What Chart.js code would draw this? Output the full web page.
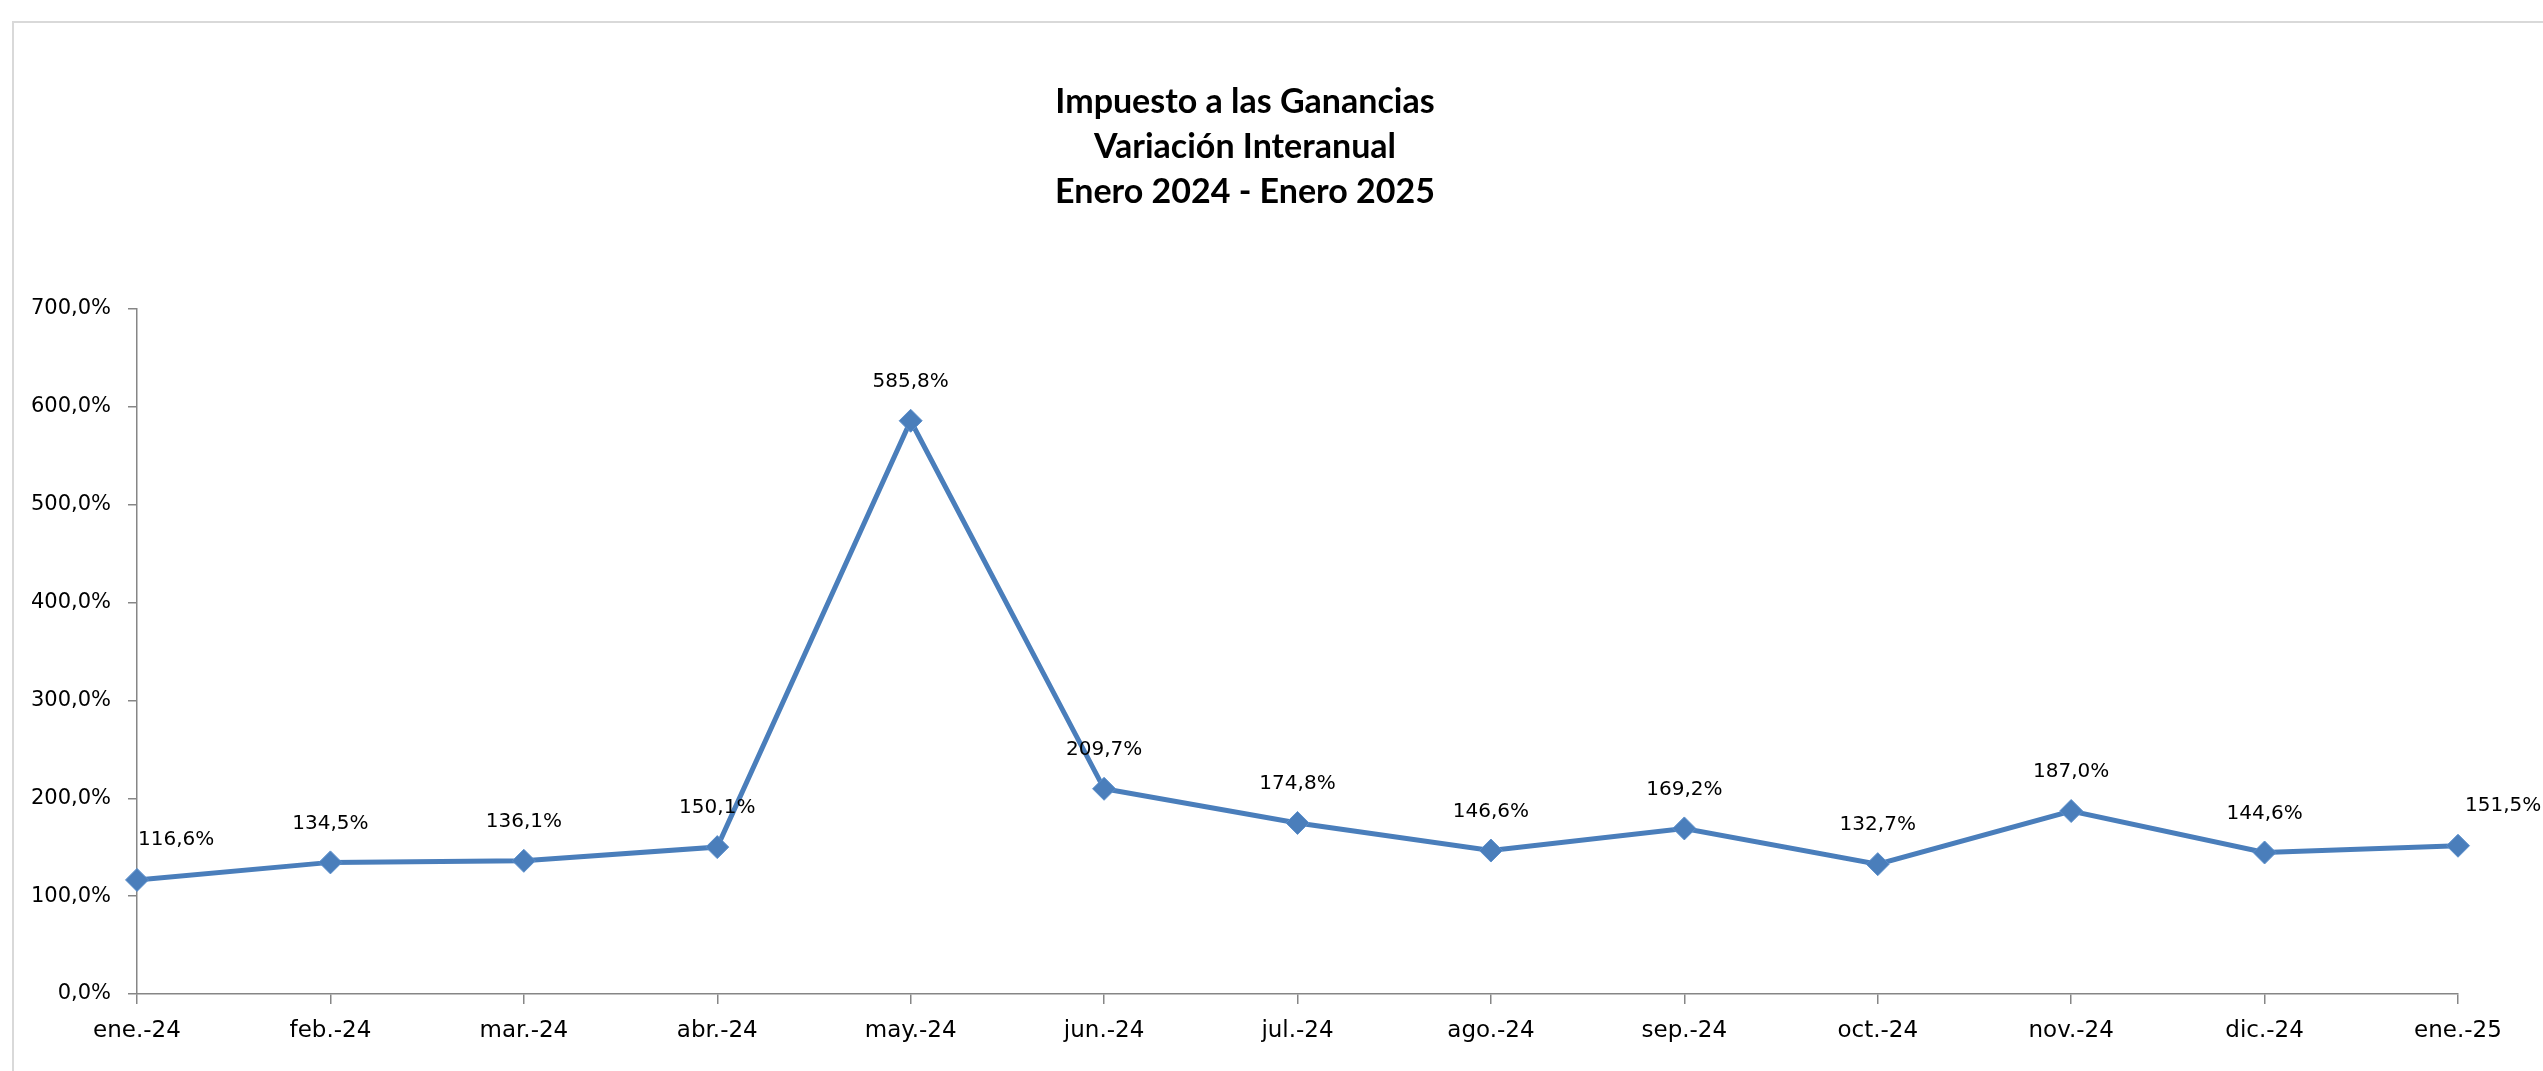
<!DOCTYPE html>
<html lang="es">
<head>
<meta charset="utf-8">
<title>Impuesto a las Ganancias - Variación Interanual</title>
<script src="https://cdn.jsdelivr.net/npm/chart.js@4.4.1/dist/chart.umd.min.js"></script>
<style>
    html, body { margin: 0; padding: 0; background: #fff; overflow: hidden; }
    .wrap { position: relative; width: 2543px; height: 1071px; }
    .frame { position: absolute; left: 12px; top: 21px; width: 3000px; height: 2000px; border: 2px solid #d9d9d9; box-sizing: border-box; }
    canvas { position: absolute; left: 0; top: 0; }
</style>
</head>
<body>
<div class="wrap">
    <div class="frame"></div>
    <canvas id="chart" width="2543" height="1071"></canvas>
</div>
<script>
// months shown on the x axis
const months = ['ene.-24', 'feb.-24', 'mar.-24', 'abr.-24', 'may.-24', 'jun.-24', 'jul.-24',
    'ago.-24', 'sep.-24', 'oct.-24', 'nov.-24', 'dic.-24', 'ene.-25'];
// year-on-year change, in percent
const variation = [116.6, 134.5, 136.1, 150.1, 585.8, 209.7, 174.8, 146.6, 169.2, 132.7, 187.0, 144.6, 151.5];
const yTicks = [0, 100, 200, 300, 400, 500, 600, 700];
const titleLines = ['Impuesto a las Ganancias', 'Variación Interanual', 'Enero 2024 - Enero 2025'];

const BLUE = '#4a7ebb';
const AXIS = '#868686';
const SANS = '"DejaVu Sans", Verdana, sans-serif';

const pct = v => v.toFixed(1).replace('.', ',') + '%';

// title drawn on top, three centred lines
const titlePlugin = {
    id: 'excelTitle',
    afterDraw(chart) {
        const ctx = chart.ctx;
        ctx.save();
        ctx.fillStyle = '#000';
        ctx.font = 'bold 34px Lato, "Open Sans", sans-serif';
        ctx.textAlign = 'center';
        ctx.textBaseline = 'middle';
        titleLines.forEach((line, i) => {
            ctx.fillText(line, 1245, 102 + i * 45);
        });
        ctx.restore();
    }
};

// value labels above each point
const valueLabels = {
    id: 'valueLabels',
    afterDatasetsDraw(chart) {
        const ctx = chart.ctx;
        const meta = chart.getDatasetMeta(0);
        ctx.save();
        ctx.fillStyle = '#000';
        ctx.font = '20px ' + SANS;
        ctx.textBaseline = 'middle';
        meta.data.forEach((pt, i) => {
            const last = i === meta.data.length - 1;
            if (i === 0 || last) {
                ctx.textAlign = 'left';
                ctx.fillText(pct(variation[i]), pt.x + (last ? 7 : 1), pt.y - 40);
            } else {
                ctx.textAlign = 'center';
                ctx.fillText(pct(variation[i]), pt.x, pt.y - 39);
            }
        });
        ctx.restore();
    }
};

new Chart(document.getElementById('chart'), {
    type: 'line',
    data: {
        labels: months,
        datasets: [{
            data: variation,
            borderColor: BLUE,
            borderWidth: 5,
            backgroundColor: BLUE,
            pointStyle: 'rectRot',
            pointRadius: 11.5,
            pointBorderWidth: 1,
            pointBorderColor: '#5b8fcc',
            pointBackgroundColor: BLUE,
            tension: 0,
            fill: false,
            clip: false
        }]
    },
    options: {
        responsive: false,
        animation: false,
        events: [],
        layout: { padding: { top: 309, right: 85, left: 0, bottom: 0 } },
        scales: {
            x: {
                offset: false,
                grid: { display: true, drawOnChartArea: false, drawTicks: true, tickLength: 10, color: AXIS, lineWidth: 1.5 },
                border: { display: true, color: AXIS, width: 1.5 },
                ticks: { color: '#000', font: { family: SANS, size: 23 }, padding: 13, maxRotation: 0, autoSkip: false },
                afterFit(scale) { scale.height = 77; }
            },
            y: {
                min: 0,
                max: 700,
                afterBuildTicks(scale) { scale.ticks = yTicks.map(v => ({ value: v })); },
                grid: { display: true, drawOnChartArea: false, drawTicks: true, tickLength: 9, color: AXIS, lineWidth: 1.5 },
                border: { display: true, color: AXIS, width: 1.5 },
                ticks: {
                    color: '#000',
                    font: { family: SANS, size: 21 },
                    padding: 17,
                    callback: v => pct(v)
                },
                afterFit(scale) { scale.width = 137; }
            }
        },
        plugins: {
            legend: { display: false },
            tooltip: { enabled: false },
            title: { display: false }
        }
    },
    plugins: [titlePlugin, valueLabels]
});
</script>
</body>
</html>
